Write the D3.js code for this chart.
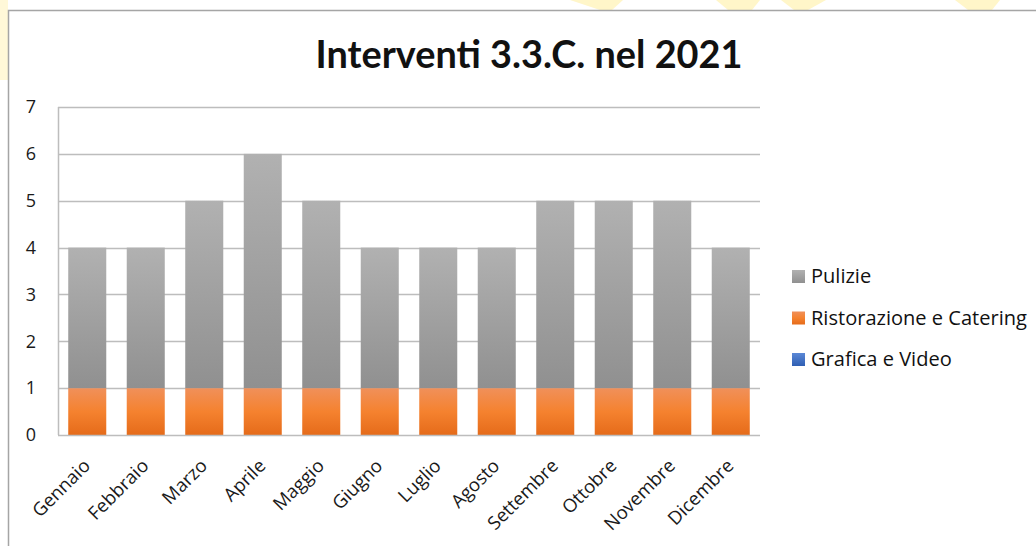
<!DOCTYPE html>
<html>
<head>
<meta charset="utf-8">
<script src="https://cdn.jsdelivr.net/npm/d3@7"></script>
<style>
  body { margin: 0; background: #fff; }
  svg { display: block; font-family: "Open Sans", sans-serif; }
</style>
</head>
<body>
<svg width="1036" height="546"></svg>
<script>
// chart data
var months = ["Gennaio", "Febbraio", "Marzo", "Aprile", "Maggio", "Giugno",
    "Luglio", "Agosto", "Settembre", "Ottobre", "Novembre", "Dicembre"];
var grafica = [0, 0, 0, 0, 0, 0, 0, 0, 0, 0, 0, 0];
var ristorazione = [1, 1, 1, 1, 1, 1, 1, 1, 1, 1, 1, 1];
var pulizie = [3, 3, 4, 5, 4, 3, 3, 3, 4, 4, 4, 3];
var seriesNames = ["Grafica e Video", "Ristorazione e Catering", "Pulizie"];
var yTicks = [0, 1, 2, 3, 4, 5, 6, 7];

function main() {
    var svg = d3.select("svg"),
        width = +svg.attr("width"),
        height = +svg.attr("height");

    var defs = svg.append("defs");
    function grad(id, stops) {
        var g = defs.append("linearGradient").attr("id", id)
            .attr("x1", 0).attr("y1", 0).attr("x2", 0).attr("y2", 1);
        stops.forEach(function (s) {
            g.append("stop").attr("offset", s[0]).attr("stop-color", s[1]);
        });
    }
    grad("gGray", [[0, "#b1b1b1"], [1, "#909090"]]);
    grad("gOrange", [[0, "#f0905a"], [0.5, "#f5822f"], [1, "#e56b1a"]]);
    grad("gBlue", [[0, "#5b88d6"], [1, "#2f5fb3"]]);
    var fills = {
        "Grafica e Video": "url(#gBlue)",
        "Ristorazione e Catering": "url(#gOrange)",
        "Pulizie": "url(#gGray)"
    };

    // faint watermark shapes at top edge
    var wm = svg.append("g").attr("fill", "#fff6c9");
    [[570, 623, 612, 600], [716, 760, 752, 728], [781, 826, 808, 794], [955, 1000, 992, 968]].forEach(function (p) {
        wm.append("path").attr("d", "M" + p[0] + ",0L" + p[1] + ",0L" + p[2] + ",10L" + p[3] + ",10Z");
    });
    wm.append("rect").attr("x", 0).attr("y", 0).attr("width", 8).attr("height", 80).attr("fill", "#fff8d8");

    // chart border
    svg.append("path")
        .attr("d", "M8.5," + height + "V10.5H" + width)
        .attr("fill", "none").attr("stroke", "#a5a5a5").attr("stroke-width", 1.5);

    var x0 = 58, x1 = 760, yTop = 107, yBot = 435;

    var x = d3.scaleBand().domain(months).range([x0, x1]).paddingInner(0.35).paddingOuter(0.175);
    var y = d3.scaleLinear().domain([0, 7]).range([yBot, yTop]);

    // gridlines
    svg.append("g").selectAll("line").data(yTicks.slice(1)).enter().append("line")
        .attr("x1", x0).attr("x2", x1)
        .attr("y1", function (d) { return Math.round(y(d)) + 0.5; })
        .attr("y2", function (d) { return Math.round(y(d)) + 0.5; })
        .attr("stroke", "#bdbdbd").attr("stroke-width", 1.5);

    var table = months.map(function (m, i) {
        return { month: m, "Grafica e Video": grafica[i], "Ristorazione e Catering": ristorazione[i], "Pulizie": pulizie[i] };
    });
    var stack = d3.stack().keys(seriesNames)(table);

    svg.append("g").selectAll("g").data(stack).enter().append("g")
        .attr("fill", function (d) { return fills[d.key]; })
        .selectAll("rect").data(function (d) { return d; }).enter().append("rect")
        .attr("x", function (d) { return x(d.data.month); })
        .attr("width", x.bandwidth())
        .attr("y", function (d) { return y(d[1]); })
        .attr("height", function (d) { return y(d[0]) - y(d[1]); });

    // axes lines
    svg.append("line").attr("x1", x0 + 0.5).attr("x2", x0 + 0.5).attr("y1", yTop).attr("y2", yBot)
        .attr("stroke", "#bdbdbd").attr("stroke-width", 1.5);
    svg.append("line").attr("x1", x0).attr("x2", x1).attr("y1", yBot + 0.5).attr("y2", yBot + 0.5)
        .attr("stroke", "#bdbdbd").attr("stroke-width", 1.5);

    // y tick labels
    var yAxis = svg.append("g").attr("transform", "translate(" + 36 + ",0)")
        .call(d3.axisLeft(y).tickValues(yTicks).tickFormat(d3.format("d")).tickSize(0).tickPadding(0));
    yAxis.select(".domain").remove();
    yAxis.selectAll("text").attr("font-family", "'Open Sans', sans-serif").attr("font-size", 18).attr("fill", "#1a1a1a");

    // x labels (rotated)
    var xAxis = svg.append("g").attr("transform", "translate(0," + yBot + ")")
        .call(d3.axisBottom(x).tickSize(0).tickPadding(0));
    xAxis.select(".domain").remove();
    xAxis.selectAll(".tick").attr("transform", function (d) {
        return "translate(" + (x(d) + x.bandwidth() / 2 + 4) + ",0)";
    });
    xAxis.selectAll("text")
        .attr("y", 0).attr("dy", 0)
        .attr("transform", "translate(0,32) rotate(-45)")
        .attr("text-anchor", "end")
        .attr("font-family", "'Open Sans', sans-serif").attr("font-size", 18.5).attr("fill", "#1a1a1a");

    // title
    var title = svg.append("text")
        .attr("x", 529).attr("y", 68)
        .attr("text-anchor", "middle")
        .attr("font-family", "Lato, sans-serif")
        .attr("font-weight", "bold").attr("font-size", 33).attr("fill", "#111")
        .text("Interventi 3.3.C. nel 2021");
    var tw = title.node().getComputedTextLength();
    title.attr("font-size", 33 * 427 / tw);

    // legend
    var legendNames = seriesNames.slice().reverse();
    var lg = svg.append("g").selectAll("g").data(legendNames).enter().append("g")
        .attr("transform", function (d, i) { return "translate(792," + (276 + i * 41.5) + ")"; });
    lg.append("rect").attr("x", 0).attr("y", -6).attr("width", 13).attr("height", 13)
        .attr("fill", function (d) { return fills[d]; });
    var lt = lg.append("text").attr("x", 19).attr("y", 0).attr("dy", "0.35em")
        .attr("font-size", 18).attr("fill", "#111")
        .text(function (d) { return d; });
    // fit legend width to the reference
    var lw = lt.filter(function (d) { return d === "Ristorazione e Catering"; }).node().getComputedTextLength();
    lt.attr("font-size", 18 * 216 / lw);
}
main();
</script>
</body>
</html>
